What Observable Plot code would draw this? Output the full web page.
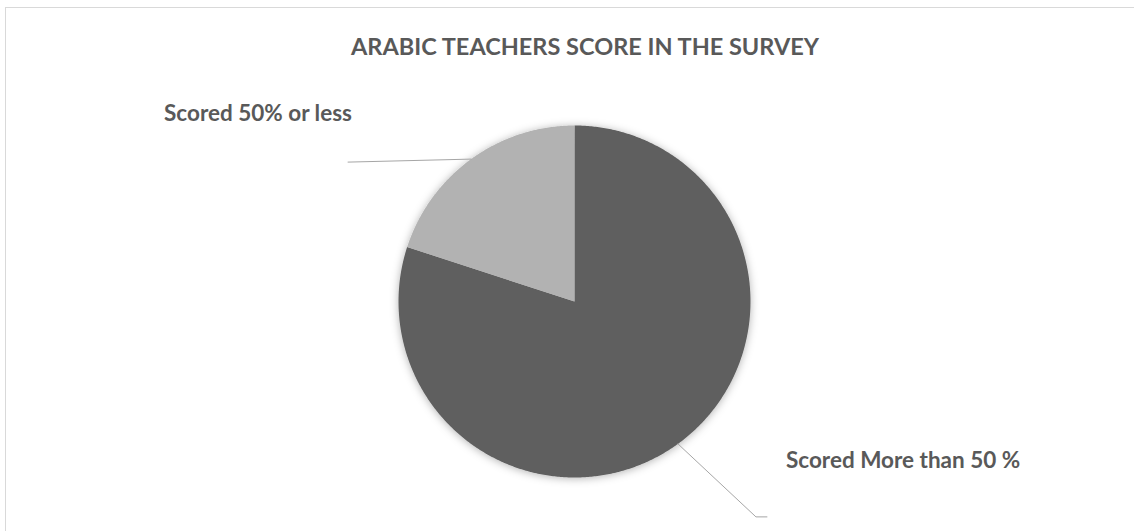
<!DOCTYPE html>
<html>
<head>
<meta charset="utf-8">
<script src="https://cdn.jsdelivr.net/npm/d3@7"></script>
<script src="https://cdn.jsdelivr.net/npm/@observablehq/plot@0.6"></script>
<style>
  html, body { margin: 0; padding: 0; background: #fff; }
  #wrap { position: relative; width: 1134px; height: 531px; overflow: hidden; font-family: Lato, "Open Sans", sans-serif; }
  #frame { position: absolute; left: 5px; top: 7px; width: 1200px; height: 600px; border-top: 1px solid #d9d9d9; border-left: 1px solid #d9d9d9; }
  #title { position: absolute; left: 0; top: 0; width: 1134px; height: 80px; line-height: 92px; text-align: center; font-weight: bold; font-size: 23.5px; color: #595959; padding-left: 36px; box-sizing: border-box; white-space: nowrap; }
  #chart { position: absolute; left: 0; top: 80px; }
</style>
</head>
<body>
<div id="wrap">
  <div id="frame"></div>
  <div id="title"></div>
  <div id="chart"></div>
</div>
<script>
const chartTitle = "ARABIC TEACHERS SCORE IN THE SURVEY";
const categories = ["Scored More than 50 %", "Scored 50% or less"];
const values = [80, 20];
const colors = ["#5f5f5f", "#b2b2b2"];

document.getElementById("title").textContent = chartTitle;

// Layout (pixels)
const W = 1134, H = 451, cx = 574, cy = 221, R = 176;

// slices from 12 o'clock clockwise
const total = d3.sum(values);
let acc = 0;
const slices = categories.map((c, i) => {
  const a0 = acc / total * 2 * Math.PI;
  acc += values[i];
  const a1 = acc / total * 2 * Math.PI;
  return {cat: c, a0, a1, mid: (a0 + a1) / 2, color: colors[i]};
});

function slicePoints(s) {
  const pts = [{x: 0, y: 0}];
  const n = Math.max(2, Math.ceil((s.a1 - s.a0) / (Math.PI / 360)));
  for (let k = 0; k <= n; k++) {
    const a = s.a0 + (s.a1 - s.a0) * k / n;
    pts.push({x: Math.sin(a), y: Math.cos(a)});
  }
  pts.push({x: 0, y: 0});
  return pts;
}

// leader line offsets (pixels) and label offsets per slice
const px = v => v / R;
const leaderSpecs = [
  {steps: [[78, 73], [11, 0]], dx: 19, dy: -56},
  {steps: [[-123, 3]], dx: -184, dy: -48}
];

const leaders = [];
const labels = [];
slices.forEach((s, i) => {
  let x = Math.sin(s.mid), y = Math.cos(s.mid);
  const pts = [{x, y, cat: s.cat}];
  for (const [ddx, ddy] of leaderSpecs[i].steps) {
    x += px(ddx); y -= px(ddy);
    pts.push({x, y, cat: s.cat});
  }
  leaders.push(...pts);
  labels.push({x, y, cat: s.cat, dx: leaderSpecs[i].dx, dy: leaderSpecs[i].dy});
});

const marks = [];
slices.forEach(s => {
  marks.push(Plot.line(slicePoints(s), {x: "x", y: "y", fill: s.color, stroke: "none", curve: "linear"}));
});
marks.push(Plot.line(leaders, {x: "x", y: "y", z: "cat", stroke: "#a6a6a6", strokeWidth: 1}));
labels.forEach(l => {
  marks.push(Plot.text([l], {x: "x", y: "y", text: "cat", dx: l.dx, dy: l.dy, textAnchor: "start",
    fill: "#595959", fontWeight: "bold", fontSize: 22.5, fontFamily: "Lato, 'Open Sans', sans-serif"}));
});

const plot = Plot.plot({
  width: W, height: H,
  margin: 0,
  x: {domain: [-cx / R, (W - cx) / R], axis: null},
  y: {domain: [-(H - cy) / R, cy / R], axis: null},
  style: {background: "transparent", overflow: "visible"},
  marks
});

// soft shadow on pie
const svgNS = "http://www.w3.org/2000/svg";
const defs = document.createElementNS(svgNS, "defs");
defs.innerHTML = '<filter id="pieShadow" x="-20%" y="-20%" width="140%" height="140%"><feDropShadow dx="0" dy="1" stdDeviation="4" flood-color="#000" flood-opacity="0.3"/></filter>';
plot.insertBefore(defs, plot.firstChild);
const lineGroups = plot.querySelectorAll('g[aria-label="line"]');
const pieG = document.createElementNS(svgNS, "g");
pieG.setAttribute("filter", "url(#pieShadow)");
lineGroups[0].parentNode.insertBefore(pieG, lineGroups[0]);
for (let i = 0; i < slices.length; i++) pieG.appendChild(lineGroups[i]);

document.getElementById("chart").appendChild(plot);
</script>
</body>
</html>
